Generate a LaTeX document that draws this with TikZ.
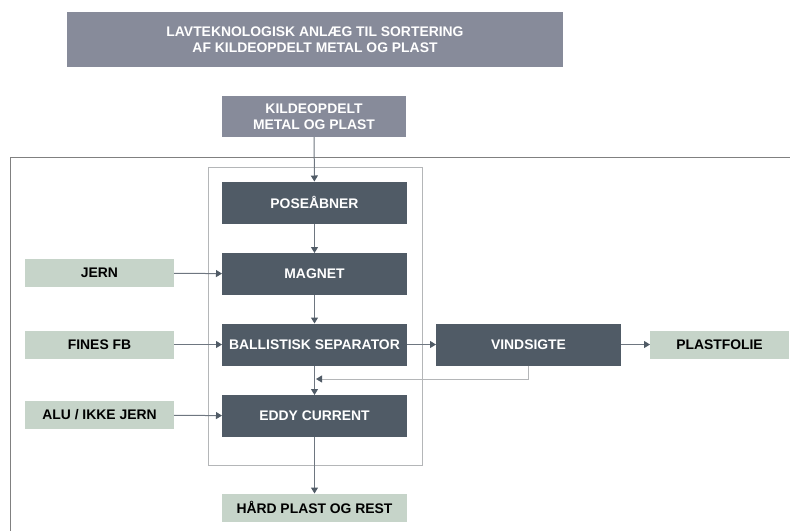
\documentclass[tikz,border=0pt]{standalone}
\usepackage{fontspec}
\setmainfont{Liberation Sans}
\usetikzlibrary{arrows.meta}

\definecolor{titlegray}{HTML}{878B9A}
\definecolor{boxdark}{HTML}{505B66}
\definecolor{boxgreen}{HTML}{C6D4C9}
\definecolor{linegray}{HTML}{6E7680}
\definecolor{framegray}{HTML}{B4B6B8}

\tikzset{
  base/.style={inner sep=0pt, outer sep=0pt, align=center, font=\bfseries\fontsize{13.9}{16}\selectfont},
  titlebox/.style={base, fill=titlegray, text=white},
  stepbox/.style={base, fill=boxdark, text=white, minimum width=185, minimum height=42},
  flowbox/.style={base, fill=boxgreen, text=black, minimum height=28},
  flow/.style={draw=linegray, line width=1pt, -{Triangle[width=7pt,length=6pt,color=boxdark]}}
}

\begin{document}
\begin{tikzpicture}[x=1pt, y=-1pt]
    \useasboundingbox (0,0) rectangle (790,531);

    % Frame and border lines
    \draw[framegray, line width=1pt] (208,167) rectangle (422,465);
    \draw[gray, line width=1pt] (790,157) -- (10,157) -- (10,531);

    % Header boxes
    \node[titlebox, minimum width=496, minimum height=55] (title) at (315,39.5)
        {LAVTEKNOLOGISK ANLÆG TIL SORTERING\\AF KILDEOPDELT METAL OG PLAST};
    \node[titlebox, minimum width=184, minimum height=41] (kilde) at (314,116.5)
        {KILDEOPDELT\\METAL OG PLAST};

    % Process steps
    \node[stepbox] (pose)   at (314.5,202.5) {POSEÅBNER};
    \node[stepbox] (magnet) at (314.5,274)   {MAGNET};
    \node[stepbox] (ballis) at (314.5,344.5) {BALLISTISK SEPARATOR};
    \node[stepbox] (eddy)   at (314.5,416)   {EDDY CURRENT};
    \node[stepbox] (vind)   at (528.5,344.5) {VINDSIGTE};

    % Inputs and outputs
    \node[flowbox, minimum width=149] (jern)   at (99.5,273)   {JERN};
    \node[flowbox, minimum width=149] (fines)  at (99.5,344.5) {FINES FB};
    \node[flowbox, minimum width=149] (alu)    at (99.5,415)   {ALU / IKKE JERN};
    \node[flowbox, minimum width=139] (folie)  at (719.5,344.5) {PLASTFOLIE};
    \node[flowbox, minimum width=185] (hard)   at (314.5,507.5) {HÅRD PLAST OG REST};

    % Main stream
    \draw[flow] (kilde) -- (pose);
    \draw[flow] (pose) -- (magnet);
    \draw[flow] (magnet) -- (ballis);
    \draw[flow] (ballis) -- (eddy);
    \draw[flow] (eddy) -- (hard);

    % Side streams
    \draw[flow] (jern) -- (magnet);
    \draw[flow] (fines) -- (ballis);
    \draw[flow] (alu) -- (eddy);
    \draw[flow] (ballis) -- (vind);
    \draw[flow] (vind) -- (folie);

    % Return from VINDSIGTE
    \coordinate (back) at (316,379);
    \draw[flow, draw=framegray] (vind.south) |- (back);
\end{tikzpicture}
\end{document}
